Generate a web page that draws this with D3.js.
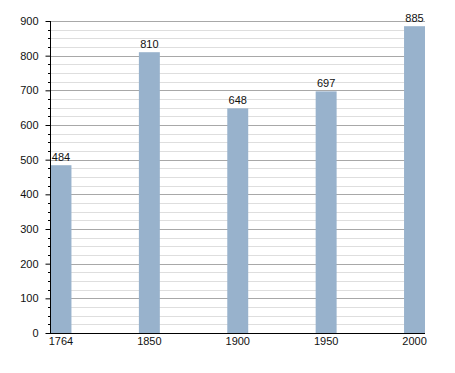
<!DOCTYPE html>
<html><head><meta charset="utf-8">
<script src="https://cdn.jsdelivr.net/npm/d3@7"></script>
<style>body{margin:0;background:#fff}text{font-family:"Liberation Sans",Arial,sans-serif;font-size:11px;fill:#111}</style>
</head><body>
<svg id="c" width="455" height="373"></svg>
<script>
const years = ["1764","1850","1900","1950","2000"];
const population = [484, 810, 648, 697, 885];
const yTicks = [0,100,200,300,400,500,600,700,800,900];

const svg = d3.select("#c");
const mLeft = 50, mRight = 425, mTop = 21, mBottom = 333;
const x = d3.scaleBand().domain(years).range([mLeft + 0.5, mRight]).paddingInner(0.763).paddingOuter(0);
const y = d3.scaleLinear().domain([0, 900]).range([mBottom, mTop]);

const minor = d3.range(0, 901, 25).filter(v => v % 100 !== 0);
// minor grid
svg.append("g").selectAll("line").data(minor).join("line")
  .attr("x1", mLeft).attr("x2", mRight)
  .attr("y1", d => Math.round(y(d)) + 0.5).attr("y2", d => Math.round(y(d)) + 0.5)
  .attr("stroke", "#dedede").attr("stroke-width", 1);
// major grid
svg.append("g").selectAll("line").data(yTicks.filter(d => d > 0)).join("line")
  .attr("x1", mLeft).attr("x2", mRight)
  .attr("y1", d => Math.round(y(d)) + 0.5).attr("y2", d => Math.round(y(d)) + 0.5)
  .attr("stroke", "#a8a8a8").attr("stroke-width", 1);

// bars
svg.append("g").selectAll("rect").data(population).join("rect")
  .attr("x", (d, i) => x(years[i])).attr("width", x.bandwidth())
  .attr("y", d => y(d)).attr("height", d => mBottom - y(d))
  .attr("fill", "#98b2cc");

// value labels
svg.append("g").selectAll("text").data(population).join("text")
  .attr("x", (d, i) => x(years[i]) + x.bandwidth() / 2)
  .attr("y", d => y(d) - 4)
  .attr("text-anchor", "middle").text(d => d);

// y axis
const yAxis = d3.axisLeft(y).tickValues(yTicks).tickSize(5).tickPadding(7).tickFormat(d3.format("d"));
const ga = svg.append("g").attr("transform", `translate(${mLeft + 0.5},0)`).call(yAxis);
ga.select(".domain").attr("stroke", "#000").attr("d", `M0,${mTop}V${mBottom}`);
ga.selectAll("text").style("font-size", "11px");
// minor ticks
svg.append("g").selectAll("line").data(minor).join("line")
  .attr("x1", mLeft - 2).attr("x2", mLeft)
  .attr("y1", d => Math.round(y(d)) + 0.5).attr("y2", d => Math.round(y(d)) + 0.5)
  .attr("stroke", "#000");

// x axis
const xAxis = d3.axisBottom(x).tickSize(0).tickPadding(4);
const gx = svg.append("g").attr("transform", `translate(0,${mBottom + 0.5})`).call(xAxis);
gx.select(".domain").attr("stroke", "#000").attr("d", `M${mLeft},0H${mRight}`);
gx.selectAll("text").style("font-size", "11px");
</script>
</body></html>
